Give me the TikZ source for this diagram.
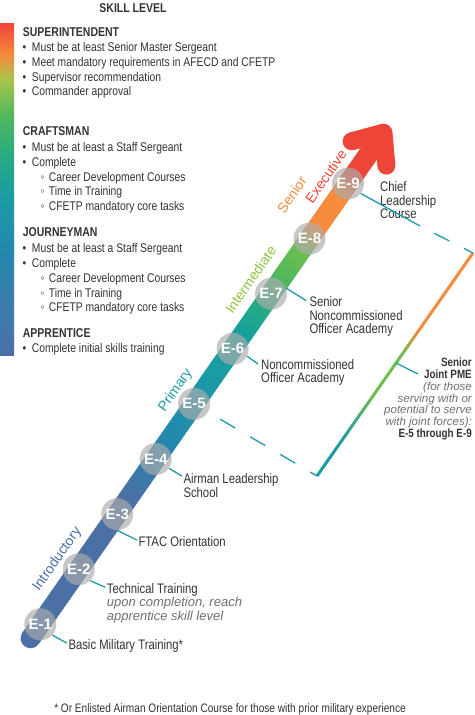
\documentclass[tikz,border=0pt]{standalone}
\usepackage{fontspec}
\setmainfont{Liberation Sans}[FakeStretch=0.82]
\newfontfamily\widefont{Liberation Sans}
\usetikzlibrary{calc}
\definecolor{slate}{HTML}{4A70A6}
\definecolor{barblue}{HTML}{3A7DAC}
\definecolor{blueteal}{HTML}{2487AE}
\definecolor{cteal}{HTML}{1A9BA6}
\definecolor{cteal2}{HTML}{16A19B}
\definecolor{tgreen}{HTML}{27AB82}
\definecolor{cgreen}{HTML}{52B85B}
\definecolor{lgreen}{HTML}{6DBF4D}
\definecolor{ygreen}{HTML}{A6C64A}
\definecolor{corange}{HTML}{F68B3C}
\definecolor{cred}{HTML}{EF4438}
\definecolor{stgreen}{HTML}{8DC640}
\definecolor{txt}{HTML}{333333}
\definecolor{itx}{HTML}{707070}
\definecolor{circ}{HTML}{ACACAC}
\definecolor{conncol}{HTML}{1A9BA6}
\pgfdeclarehorizontalshading{shaftshade}{100bp}{color(0bp)=(slate); color(25bp)=(slate); color(39.47bp)=(slate); color(44.82bp)=(blueteal); color(51.25bp)=(cteal); color(55.53bp)=(cteal2); color(58.22bp)=(tgreen); color(60.89bp)=(cgreen); color(63.84bp)=(lgreen); color(65.45bp)=(corange); color(69.2bp)=(corange); color(70.8bp)=(cred); color(100bp)=(cred)}
\pgfdeclareverticalshading{barshade}{100bp}{color(0bp)=(slate); color(25bp)=(slate); color(33.28bp)=(barblue); color(40.06bp)=(blueteal); color(48.34bp)=(cteal); color(55.12bp)=(tgreen); color(61.14bp)=(cgreen); color(66.42bp)=(ygreen); color(70.18bp)=(corange); color(75bp)=(cred); color(100bp)=(cred)}
\pgfdeclarehorizontalshading{brackshade}{100bp}{color(0bp)=(cteal); color(33.1bp)=(cteal); color(43.2bp)=(lgreen); color(52.2bp)=(lgreen); color(57.7bp)=(corange); color(100bp)=(corange)}
\newcommand\skbul[3]{\node[body] (#1b) at (22.5,#2) {•}; \node[body] (#1) at (31.7,#2) {#3};}
\newcommand\sksub[3]{\node[body] (#1b) at (40.3,#2) {◦}; \node[body] (#1) at (48.7,#2) {#3};}
\begin{document}
\begin{tikzpicture}[x=1pt,y=-1pt,
  body/.style={anchor=base west, inner sep=0pt, text=txt, font=\fontsize{12.6}{15}\selectfont},
  headtxt/.style={body, font=\bfseries\fontsize{12.8}{15}\selectfont},
  lab/.style={anchor=base west, inner sep=0pt, text=txt, font=\fontsize{13.8}{15}\selectfont},
  ilab/.style={anchor=base west, inner sep=0pt, text=itx, font=\widefont\itshape\fontsize{13}{15}\selectfont},
  plab/.style={anchor=base east, inner sep=0pt, text=txt, font=\bfseries\fontsize{12}{12}\selectfont},
  pilab/.style={anchor=base east, inner sep=0pt, text=itx, font=\widefont\itshape\fontsize{11.5}{12}\selectfont},
  stage/.style={font=\widefont\fontsize{14}{14}\selectfont, inner sep=0pt},
  ecirc/.style={circle, fill=circ, fill opacity=0.67, text opacity=1, minimum size=32pt, inner sep=0pt, text=white, font=\widefont\bfseries\fontsize{15}{15}\selectfont},
  connl/.style={draw=conncol, line width=1.3pt},
]
\useasboundingbox (0,0) rectangle (474,715);
\fill[white] (0,0) rectangle (474,715);

% skill level column
\node[headtxt, anchor=base] (sk) at (133,12) {SKILL LEVEL};
\shade[shading=barshade] (0,23) rectangle (14,355);

\node[headtxt] (hsup) at (22.7,36.7) {SUPERINTENDENT};
\skbul{s1}{51.5}{Must be at least Senior Master Sergeant}
\skbul{s2}{66.3}{Meet mandatory requirements in AFECD and CFETP}
\skbul{s3}{81.1}{Supervisor recommendation}
\skbul{s4}{95.9}{Commander approval}

\node[headtxt] (hcra) at (22.7,135.2) {CRAFTSMAN};
\skbul{c1}{151.8}{Must be at least a Staff Sergeant}
\skbul{c2}{166.4}{Complete}
\sksub{c3}{181.2}{Career Development Courses}
\sksub{c4}{195.7}{Time in Training}
\sksub{c5}{210.5}{CFETP mandatory core tasks}

\node[headtxt] (hjou) at (22.7,236.8) {JOURNEYMAN};
\skbul{j1}{252.2}{Must be at least a Staff Sergeant}
\skbul{j2}{267.2}{Complete}
\sksub{j3}{282.5}{Career Development Courses}
\sksub{j4}{297.0}{Time in Training}
\sksub{j5}{311.8}{CFETP mandatory core tasks}

\node[headtxt] (happ) at (22.7,337.8) {APPRENTICE};
\skbul{a1}{352.8}{Complete initial skills training}

% shaft
\begin{scope}[transform canvas={shift={(40.3,624.3)}, rotate=55.08}]
  \shade[shading=shaftshade, rounded corners=10pt] (-27,-10) rectangle (599.6,10);
\end{scope}
\begin{scope}[shift={(40.3,624.3)}, rotate=55.08]
  \coordinate (T) at (599.6,0);
  \coordinate (A) at (574.3,21.2);
  \coordinate (B) at (574.3,-21.2);
  \draw[cred, line width=18pt, line cap=round, line join=round] (A) -- (T) -- (B);
\end{scope}
\begin{scope}[shift={(40.3,624.3)}, rotate=55.08, transform shape]
  \node[stage, text=slate] (sIntro) at (63.1,-23.2) {Introductory};
  \node[stage, text=cteal] (sPrim) at (269.2,-22.9) {Primary};
  \node[stage, text=stgreen] (sInter) at (403.1,-24.8) {Intermediate};
  \node[stage, text=corange] (sSen) at (496.3,-39.7) {Senior};
  \node[stage, text=cred] (sExe) at (530.6,-22.1) {Executive};
\end{scope}

% bracket
\coordinate (bb) at (317,476);
\coordinate (bt) at (473,253);
\coordinate (m9) at (420,226);
\coordinate (jc) at (396,363);
\begin{scope}[transform canvas={shift={(317,476)}, rotate=55.03}]
  \shade[shading=brackshade] (0,-1.5) rectangle (272.2,1.5);
\end{scope}

% circles
\foreach \k in {1,...,9}{
  \node[ecirc] (c\k) at ({40.3+(\k-1)*38.46},{624.3-(\k-1)*55.1}) {E-\k};
}

% labels
\node[lab] (t1) at (68.3,649) {Basic Military Training*};
\node[lab] (t2) at (106.7,593.3) {Technical Training};
\node[ilab] (t2a) at (106.7,606.6) {upon completion, reach};
\node[ilab] (t2b) at (106.7,620) {apprentice skill level};
\node[lab] (t3) at (138.3,546) {FTAC Orientation};
\node[lab] (t4) at (183.3,483) {Airman Leadership};
\node[lab] (t4a) at (183.3,497) {School};
\node[lab] (t6) at (261,369) {Noncommissioned};
\node[lab] (t6a) at (261,382.5) {Officer Academy};
\node[lab] (t7) at (309.3,306.7) {Senior};
\node[lab] (t7a) at (309.3,320) {Noncommissioned};
\node[lab] (t7b) at (309.3,333.5) {Officer Academy};
\node[lab] (t9) at (380,191) {Chief};
\node[lab] (t9a) at (380,205) {Leadership};
\node[lab] (t9b) at (380,218) {Course};

\node[plab] (p1) at (472,366.6) {Senior};
\node[plab] (jp) at (472,378.4) {Joint PME};
\node[pilab] (p3) at (472,390.2) {(for those};
\node[pilab] (p4) at (472,402) {serving with or};
\node[pilab] (p5) at (472,413.8) {potential to serve};
\node[pilab] (p6) at (472,425.6) {with joint forces):};
\node[plab] (p7) at (472,437.4) {E-5 through E-9};

% connectors
\coordinate (e1) at (66.8,643);
\coordinate (e2) at (105.2,587.3);
\coordinate (e3) at (136.8,540);
\coordinate (e4) at (181.8,476);
\coordinate (e6) at (258,364);
\coordinate (e7) at (306,300.5);
\coordinate (ej) at (418,374);
\draw[connl] (c1.-42) -- (e1);
\draw[connl] (c2.-45) -- (e2);
\draw[connl] (c3.south) -- (e3);
\draw[connl] (c4.-35) -- (e4);
\draw[connl] (c6.-27) -- (e6);
\draw[connl] (c7.20) -- (e7);
\draw[connl] (c9.-38) -- (m9);
\draw[connl, dash pattern=on 0pt off 16pt on 17pt off 16.5pt on 12pt] (m9) -- (bt);
\draw[connl, dash pattern=on 17.4pt off 17.4pt, dash phase=20.8pt] (c5) -- (bb);
\draw[connl] (jc) -- (ej);

% footnote
\node[body, anchor=base, font=\fontsize{12.3}{15}\selectfont] (foot) at (230,712.7) {* Or Enlisted Airman Orientation Course for those with prior military experience};
\end{tikzpicture}
\end{document}
